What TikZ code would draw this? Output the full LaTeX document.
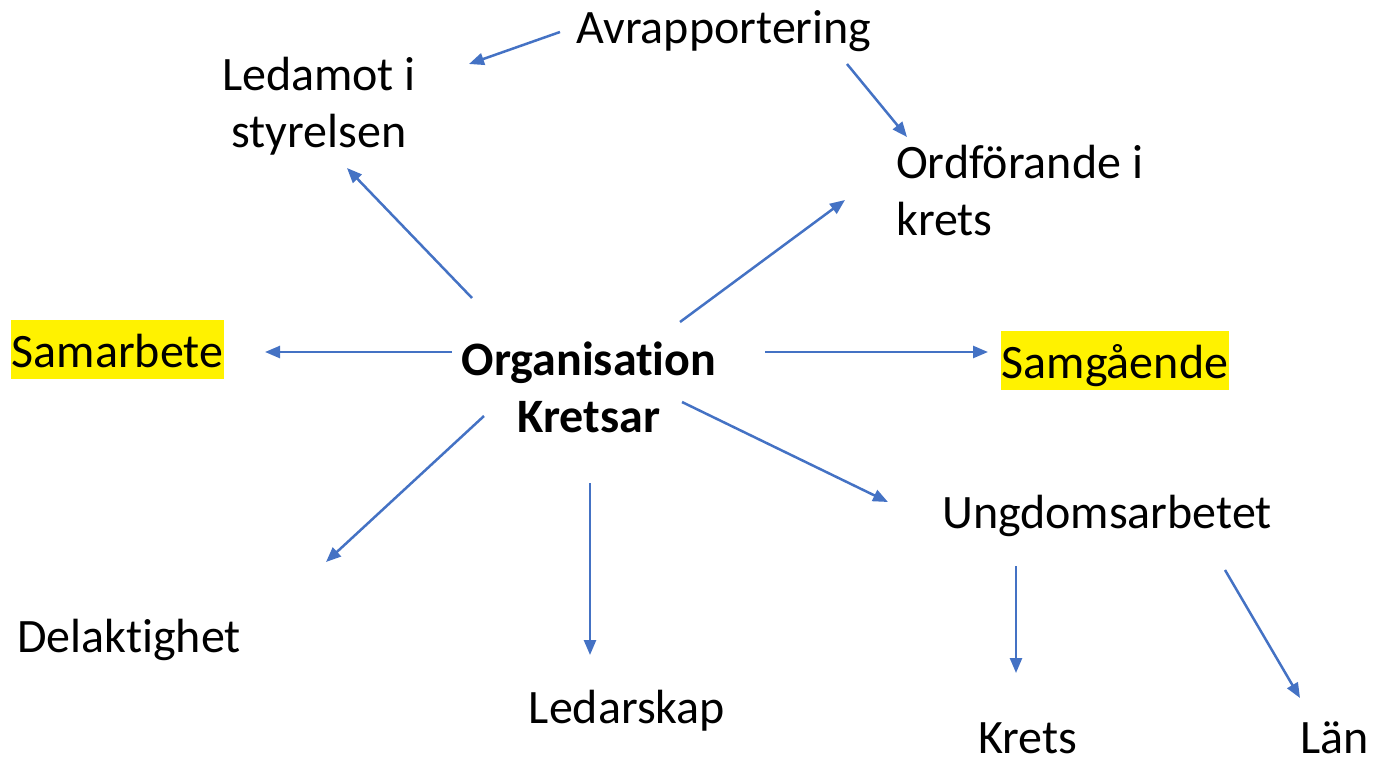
\documentclass[tikz,border=0pt]{standalone}
\usepackage{fontspec}
\setmainfont[Ligatures={NoCommon}]{Carlito}
\usetikzlibrary{arrows.meta}
\begin{document}
\begin{tikzpicture}[x=1pt,y=-1pt,
  lbl/.style={inner sep=0pt, font=\fontsize{48}{57}\selectfont, anchor=base},
  hl/.style={lbl, fill=yellow, inner xsep=1pt, text height=47pt, text depth=12pt, anchor=base},
  arr/.style={draw={rgb,255:red,68;green,114;blue,196}, line width=2.5pt, -{Triangle[length=15pt,width=12pt]}}]
\useasboundingbox (0,0) rectangle (1378,761);
% nodes
\node[lbl] (avr) at (724,43) {Avrapportering};
\node[lbl, align=center] (led) at (319,147) {Ledamot i\\styrelsen};
\node[lbl, align=left, anchor=base west] (ord) at (896,235) {Ordförande i\\krets};
\node[lbl, align=center, font=\fontsize{48}{57}\selectfont\bfseries] (org) at (589,432) {Organisation\\Kretsar};
\node[hl] (sam) at (117.5,367) {Samarbete};
\node[hl] (smg) at (1115,378) {Samgående};
\node[lbl] (ung) at (1107,528) {Ungdomsarbetet};
\node[lbl] (del) at (129,652) {Delaktighet};
\node[lbl] (ldr) at (627,723) {Ledarskap};
\node[lbl, text depth=0pt] (krt) at (1028,753) {Krets};
\node[lbl, text depth=0pt] (lan) at (1335,753) {Län};
% arrow ends
\coordinate (a1s) at (560,32);  \coordinate (a1e) at (469,64);
\coordinate (a2s) at (847,64);  \coordinate (a2e) at (907,137);
\coordinate (a3s) at (472,298); \coordinate (a3e) at (347,168);
\coordinate (a4s) at (680,322); \coordinate (a4e) at (845,200);
\coordinate (a5s) at (452,352); \coordinate (a5e) at (265,352);
\coordinate (a6s) at (765,352); \coordinate (a6e) at (988,352);
\coordinate (a7s) at (484,416); \coordinate (a7e) at (326,562);
\coordinate (a8s) at (590,483); \coordinate (a8e) at (590,655);
\coordinate (a9s) at (682,402); \coordinate (a9e) at (888,502);
\coordinate (a10s) at (1016,566); \coordinate (a10e) at (1016,673);
\coordinate (a11s) at (1225,570); \coordinate (a11e) at (1300,698);
\foreach \i in {1,...,11} {\draw[arr] (a\i s) -- (a\i e);}
\end{tikzpicture}
\end{document}
